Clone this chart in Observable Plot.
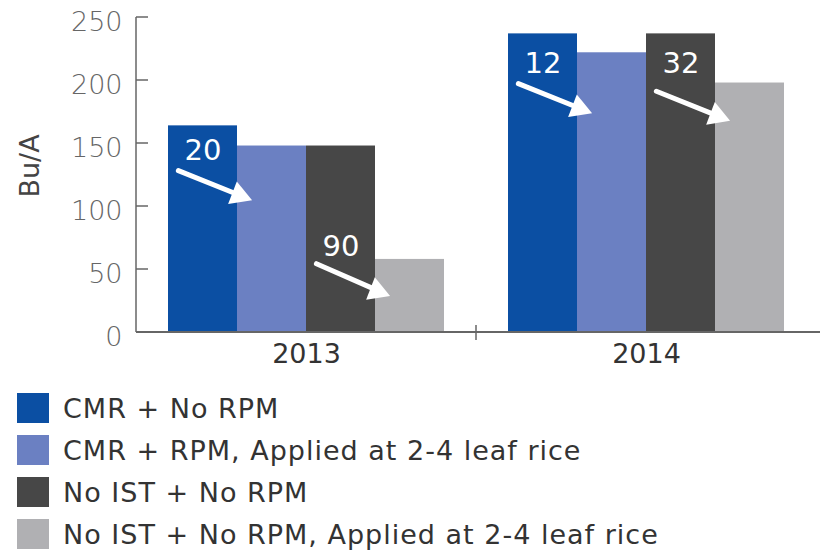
<!DOCTYPE html>
<html><head><meta charset="utf-8">
<script src="https://cdn.jsdelivr.net/npm/d3@7"></script>
<script src="https://cdn.jsdelivr.net/npm/@observablehq/plot@0.6"></script>
<style>
body{margin:0;background:#fff;font-family:"DejaVu Sans",sans-serif;}
#legend{padding-top:2px;}
.row{display:flex;align-items:center;height:42px;}
.sw{width:32px;height:30px;margin-left:17px;margin-right:14px;flex:none;}
.lab{font-size:27px;color:#333;white-space:nowrap;letter-spacing:1px;}
</style></head><body><div id="chart"></div><div id="legend"></div>
<script>
const years = ["2013", "2014"];
const series = ["CMR + No RPM", "CMR + RPM, Applied at 2-4 leaf rice", "No IST + No RPM", "No IST + No RPM, Applied at 2-4 leaf rice"];
const colors = ["#0b4fa3", "#6b80c2", "#474747", "#b0b0b3"];
const values2013 = [164, 148, 148, 58];
const values2014 = [237, 222, 237, 198];
const yTicks = [0, 50, 100, 150, 200, 250];

// annotations: percent drops
const dropLabels = ["20", "90", "12", "32"];
const dropYear = ["2013", "2013", "2014", "2014"];
const dropFrom = [0, 2, 0, 2];
const dropTo = [1, 3, 1, 3];
const dropLabelY = [144, 68, 213, 213];
const arrowStartY = [127, 53, 196, 190];
const arrowEndY = [105, 29, 174, 168];

const rows = [];
years.forEach((yr, i) => series.forEach((s, j) => rows.push({year: yr, series: s, value: (i === 0 ? values2013 : values2014)[j]})));
const notes = dropLabels.map((t, i) => ({year: dropYear[i], from: series[dropFrom[i]], to: series[dropTo[i]], label: t, ly: dropLabelY[i], y1: arrowStartY[i], y2: arrowEndY[i]}));

const plot = Plot.plot({
  width: 823, height: 385,
  marginLeft: 136, marginRight: 7, marginTop: 17, marginBottom: 53,
  style: {fontFamily: "DejaVu Sans, sans-serif", fontSize: "27px", color: "#555", background: "#fff"},
  fx: {domain: years, paddingInner: 0.1824, paddingOuter: 0.0912, label: null},
  x: {domain: series, padding: 0, axis: null},
  y: {domain: [0, 250], label: null},
  color: {domain: series, range: colors},
  marks: [
    Plot.barY(rows, {fx: "year", x: "series", y: "value", fill: "series"}),
    Plot.arrow(notes, {fx: "year", x1: "from", y1: "y1", x2: "to", y2: "y2", stroke: "white", strokeWidth: 5, headLength: 0, insetStart: -5, insetEnd: 12, dx: -20}),
    Plot.dot(notes, {fx: "year", x: "to", y: "y2", symbol: "triangle", r: 9, fill: "white", stroke: "none", rotate: 111, dx: -33, dy: -5}),
    Plot.text(notes, {fx: "year", x: "from", y: "ly", text: "label", fill: "white", fontSize: 29, fontFamily: "DejaVu Sans, sans-serif"}),
    Plot.axisY(yTicks, {tickSize: 0, tickPadding: 45, dy: 5, label: null, fontSize: 27, fill: "#666", fontWeight: 300, letterSpacing: 1}),
    Plot.axisFx({anchor: "bottom", tickSize: 0, tickPadding: 11, label: null, fontSize: 27, fill: "#333", letterSpacing: 1.5})
  ]
});
document.getElementById("chart").appendChild(plot);

// axis lines drawn from the plot's own scales
const svg = d3.select(plot);
const y = plot.scale("y"), fx = plot.scale("fx");
const left = fx.range[0];
const y0 = y.apply(0);
const g = svg.append("g").attr("stroke", "#666").attr("fill", "none");
g.append("line").attr("x1", left).attr("x2", left).attr("y1", y.apply(250)).attr("y2", y0).attr("stroke-width", 1.5);
yTicks.forEach(t => g.append("line").attr("x1", left).attr("x2", left + 12).attr("y1", y.apply(t)).attr("y2", y.apply(t)).attr("stroke-width", 1.5));
g.append("line").attr("x1", left).attr("x2", 820).attr("y1", y0).attr("y2", y0).attr("stroke-width", 2);
const bw = fx.bandwidth;
const mid = (fx.apply(years[0]) + bw + fx.apply(years[1])) / 2;
g.append("line").attr("x1", mid).attr("x2", mid).attr("y1", y0 - 7).attr("y2", y0 + 8).attr("stroke-width", 1.5);
svg.append("text").attr("transform", "translate(30,166) rotate(-90)").attr("text-anchor", "middle").attr("dy", "0.35em")
  .attr("fill", "#444").style("font-size", "27px").text("Bu/A");

// legend
const legend = d3.select("#legend");
series.forEach((s, i) => {
  const r = legend.append("div").attr("class", "row");
  r.append("span").attr("class", "sw").style("background", colors[i]);
  r.append("span").attr("class", "lab").text(s);
});
</script></body></html>
